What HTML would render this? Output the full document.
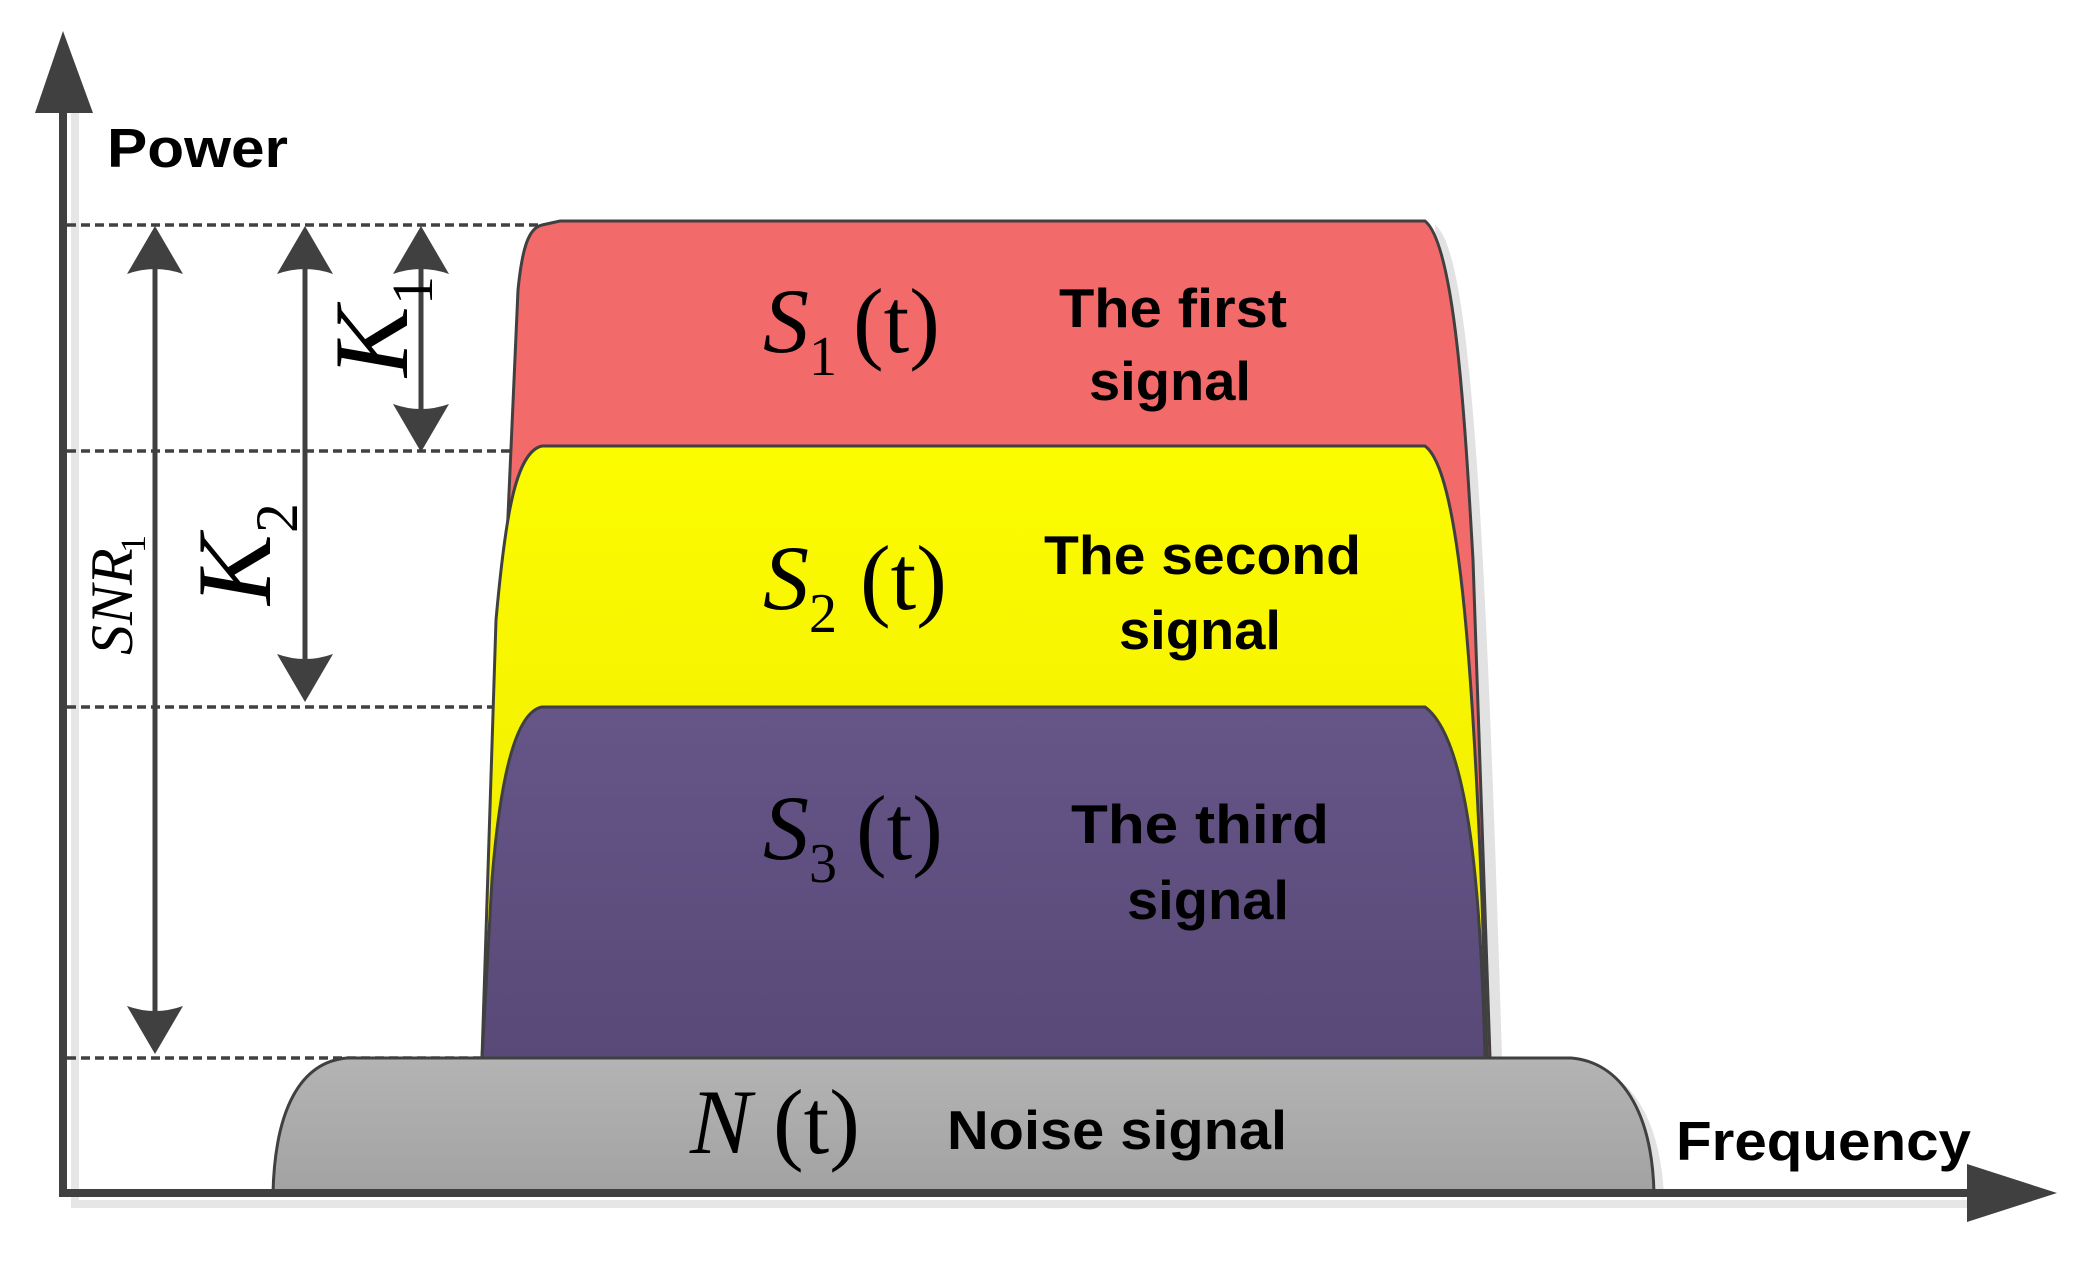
<!DOCTYPE html>
<html><head><meta charset="utf-8"><style>html,body{margin:0;padding:0;background:#fff}svg{display:block}</style></head>
<body>
<svg width="2088" height="1264" viewBox="0 0 2088 1264" xmlns="http://www.w3.org/2000/svg">
<defs>
<linearGradient id="gy" x1="0" y1="0" x2="0" y2="1"><stop offset="0" stop-color="#fcfc00"/><stop offset="1" stop-color="#efe900"/></linearGradient>
<linearGradient id="gp" x1="0" y1="0" x2="0" y2="1"><stop offset="0" stop-color="#665688"/><stop offset="1" stop-color="#594978"/></linearGradient>
<linearGradient id="gg" x1="0" y1="0" x2="0" y2="1"><stop offset="0" stop-color="#b4b4b4"/><stop offset="1" stop-color="#a2a2a2"/></linearGradient>
</defs>
<!-- axis shadows -->
<rect x="71" y="100" width="8" height="1104" fill="#e6e6e6"/>
<rect x="71" y="1200" width="1900" height="8" fill="#e6e6e6"/>
<!-- dashed lines -->
<g stroke="#404040" stroke-width="3.5" stroke-dasharray="9,5">
<line x1="67" y1="225" x2="548" y2="225"/>
<line x1="67" y1="451" x2="548" y2="451"/>
<line x1="67" y1="707" x2="548" y2="707"/>
<line x1="67" y1="1058" x2="548" y2="1058"/>
</g>
<!-- shape shadows -->
<path d="M1435,225 C1470,250 1485,500 1502,1058 L1470,1058 Z" fill="#e2e2e2"/>
<path d="M1580,1062 C1625,1070 1660,1110 1664,1197 L1640,1197 Z" fill="#e2e2e2"/>
<!-- red -->
<path d="M542,225 C528,228 522,250 518,290 L484,1058 L1490,1058 L1473,560 C1465,420 1455,245 1425,221 L560,221 Z" fill="#f26a6a" stroke="#404040" stroke-width="3"/>
<!-- yellow -->
<path d="M542,446 C515,452 505,520 496,620 L482,1058 L1487,1058 L1482,900 C1472,650 1458,470 1425,446 Z" fill="url(#gy)" stroke="#404040" stroke-width="3"/>
<!-- purple -->
<path d="M542,707 C515,712 500,780 492,880 L482,1058 L1485,1058 C1481,900 1470,740 1425,707 Z" fill="url(#gp)" stroke="#404040" stroke-width="3"/>
<!-- noise -->
<path d="M273,1193 C275,1110 300,1062 347,1058 L1571,1058 C1620,1062 1652,1110 1654,1193 Z" fill="url(#gg)" stroke="#404040" stroke-width="3"/>
<!-- axes -->
<rect x="59" y="100" width="8" height="1097" fill="#404040"/>
<path d="M63,31 L35,113 L93,113 Z" fill="#404040"/>
<rect x="59" y="1189" width="1915" height="8" fill="#404040"/>
<path d="M2057,1193 L1967,1164 L1967,1222 Z" fill="#404040"/>
<!-- dimension arrows -->
<g stroke="#404040" stroke-width="5">
<line x1="155" y1="260" x2="155" y2="1020"/>
<line x1="305" y1="260" x2="305" y2="670"/>
<line x1="421" y1="260" x2="421" y2="415"/>
</g>
<g fill="#404040">
<path d="M155,226 L183,274 Q155,264 127,274 Z"/>
<path d="M155,1054 L183,1006 Q155,1016 127,1006 Z"/>
<path d="M305,226 L333,274 Q305,264 277,274 Z"/>
<path d="M305,702 L333,654 Q305,664 277,654 Z"/>
<path d="M421,226 L449,274 Q421,264 393,274 Z"/>
<path d="M421,452 L449,404 Q421,414 393,404 Z"/>
</g>
<!-- rotated labels -->
<g font-family="Liberation Serif, serif" fill="#000">
<text transform="translate(407,377) rotate(-90)" font-size="106"><tspan font-style="italic">K</tspan><tspan font-size="58" dy="25" x="72">1</tspan></text>
<text transform="translate(270,605) rotate(-90)" font-size="106"><tspan font-style="italic">K</tspan><tspan font-size="60" dy="27" x="72">2</tspan></text>
<text transform="translate(132,655) rotate(-90)" font-size="60"><tspan font-style="italic">SNR</tspan><tspan font-size="36" dy="13" x="102">1</tspan></text>
</g>
<!-- math labels -->
<g font-family="Liberation Serif, serif" fill="#000" font-size="92">
<text x="763" y="352"><tspan font-style="italic">S</tspan><tspan font-size="56" dy="23">1</tspan><tspan dy="-23" x="853">(t)</tspan></text>
<text x="763" y="609"><tspan font-style="italic">S</tspan><tspan font-size="56" dy="23">2</tspan><tspan dy="-23" x="860">(t)</tspan></text>
<text x="763" y="859"><tspan font-style="italic">S</tspan><tspan font-size="56" dy="23">3</tspan><tspan dy="-23" x="856">(t)</tspan></text>
<text x="690" y="1153"><tspan font-style="italic">N</tspan><tspan x="773">(t)</tspan></text>
</g>
<!-- bold labels -->
<g font-family="Liberation Sans, sans-serif" font-weight="bold" font-size="55" fill="#000">
<text x="107" y="167" textLength="181" lengthAdjust="spacingAndGlyphs">Power</text>
<text x="1059" y="327" textLength="228" lengthAdjust="spacingAndGlyphs">The first</text>
<text x="1089" y="400" textLength="162" lengthAdjust="spacingAndGlyphs">signal</text>
<text x="1044" y="574" textLength="317" lengthAdjust="spacingAndGlyphs">The second</text>
<text x="1119" y="649" textLength="162" lengthAdjust="spacingAndGlyphs">signal</text>
<text x="1071" y="843" textLength="258" lengthAdjust="spacingAndGlyphs">The third</text>
<text x="1127" y="919" textLength="162" lengthAdjust="spacingAndGlyphs">signal</text>
<text x="947" y="1149" textLength="340" lengthAdjust="spacingAndGlyphs">Noise signal</text>
<text x="1676" y="1160" textLength="295" lengthAdjust="spacingAndGlyphs">Frequency</text>
</g>
</svg>
</body></html>
